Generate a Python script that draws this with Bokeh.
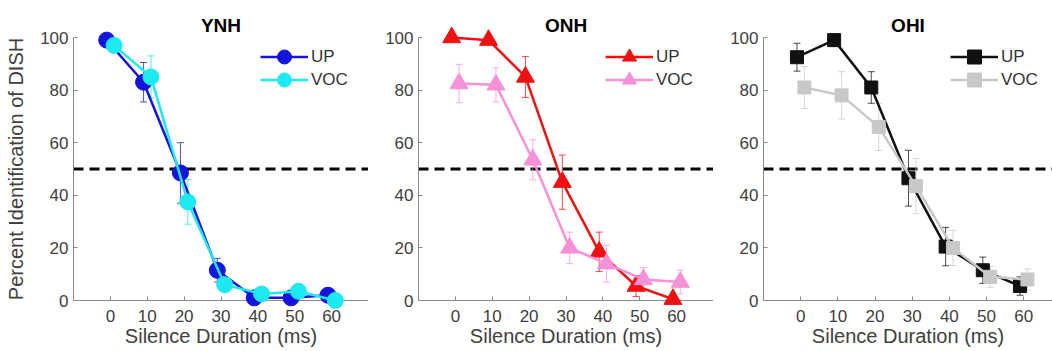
from bokeh.plotting import figure
from bokeh.layouts import row
from bokeh.models import (Range1d, FixedTicker, Span, Whisker, TeeHead,
                          ColumnDataSource, Legend, LegendItem)
from bokeh.embed import file_html
from bokeh.resources import INLINE

# ---------------- data ----------------
durations = [0, 10, 20, 30, 40, 50, 60]
x_ticks = [0, 10, 20, 30, 40, 50, 60]
y_ticks = [0, 20, 40, 60, 80, 100]
series_labels = ["UP", "VOC"]
panel_titles = ["YNH", "ONH", "OHI"]

ynh_up = [99, 83, 48.5, 11.5, 1, 1, 2]
ynh_up_err = [1, 7.5, 11.5, 4.5, 1, 1, 1]
ynh_voc = [97, 85, 37.5, 6, 2.5, 3.5, 0]
ynh_voc_err = [1.5, 8, 8.5, 2.5, 1.5, 1.5, 0.5]

onh_up = [100, 99, 85, 45, 18.5, 5.5, 0.5]
onh_up_err = [0.5, 1, 7.8, 10.3, 7.5, 4, 0.5]
onh_voc = [82.5, 82, 53.5, 20, 14, 8, 7]
onh_voc_err = [7.3, 6.5, 7.6, 6, 7, 4.5, 4.5]

ohi_up = [92.5, 99, 81, 46.5, 20.5, 11.5, 5.5]
ohi_up_err = [5.3, 1, 6, 10.6, 7.3, 5, 3.5]
ohi_voc = [81, 78, 66, 43.5, 20, 9, 8]
ohi_voc_err = [8, 9, 9, 10.5, 6.7, 4, 4]

JITTER = 1.0
FONT = "Liberation Sans"
TEXT = "#404040"
AXIS = "#8a8a8a"


def make_panel(title, up, up_err, voc, voc_err, marker, colors, size,
               x_end, border_left, width, ylabel=None):
    p = figure(width=width, height=351,
               x_range=Range1d(-10, x_end), y_range=Range1d(0, 100),
               output_backend="svg", toolbar_location=None,
               min_border_left=border_left, min_border_right=0,
               min_border_top=37, min_border_bottom=51)
    p.outline_line_color = None
    p.grid.visible = False
    p.title.text = title
    p.title.align = "center"
    p.title.text_font = FONT
    p.title.text_font_size = "19px"
    p.title.text_font_style = "bold"
    p.title.text_color = "black"
    p.title.standoff = 3

    for ax in (p.xaxis[0], p.yaxis[0]):
        ax.axis_line_color = AXIS
        ax.axis_line_width = 1
        ax.major_tick_line_color = AXIS
        ax.major_tick_in = 4
        ax.major_tick_out = 0
        ax.minor_tick_line_color = None
        ax.major_label_text_font = FONT
        ax.major_label_text_font_size = "17px"
        ax.major_label_text_color = TEXT
        ax.axis_label_text_font = FONT
        ax.axis_label_text_font_size = "20px"
        ax.axis_label_text_font_style = "normal"
        ax.axis_label_text_color = TEXT
    p.xaxis.ticker = FixedTicker(ticks=x_ticks)
    p.yaxis.ticker = FixedTicker(ticks=y_ticks)
    p.xaxis.major_label_standoff = 9
    p.yaxis.major_label_standoff = 5
    p.xaxis.axis_label = "Silence Duration (ms)"
    p.xaxis.axis_label_standoff = 0
    if ylabel:
        p.yaxis.axis_label = ylabel
        p.yaxis.axis_label_standoff = 10

    p.add_layout(Span(location=50, dimension="width", line_color="black",
                      line_width=3, line_dash="10 6", level="underlay"))

    legend_rows = []
    for sign, vals, errs, color, lab in ((-1, up, up_err, colors[0], series_labels[0]),
                                         (1, voc, voc_err, colors[1], series_labels[1])):
        src = ColumnDataSource(dict(
            x=[d + sign * JITTER for d in durations], y=vals,
            lo=[v - e for v, e in zip(vals, errs)],
            hi=[v + e for v, e in zip(vals, errs)]))
        w = Whisker(base="x", lower="lo", upper="hi", source=src,
                    line_color=color, line_width=1, line_alpha=0.75,
                    level="glyph",
                    upper_head=TeeHead(size=7, line_color=color, line_alpha=0.75),
                    lower_head=TeeHead(size=7, line_color=color, line_alpha=0.75))
        p.add_layout(w)
        ln = p.line("x", "y", source=src, line_color=color, line_width=2.5,
                    level="annotation")
        sc = p.scatter("x", "y", source=src, marker=marker, size=size,
                       fill_color=color, line_color=color, level="annotation")
        legend_rows.append(LegendItem(label=lab, renderers=[ln, sc]))

    # one legend per row so the legend markers can be drawn at full size
    for item, ypos in zip(legend_rows, (226, 203)):
        leg = Legend(items=[item], location=(187, ypos), padding=0, margin=0,
                     spacing=0, glyph_width=48, glyph_height=35, label_height=35,
                     label_standoff=3, border_line_color=None,
                     background_fill_alpha=0, label_text_font=FONT,
                     label_text_font_size="17px", label_text_color="#333333")
        p.add_layout(leg)
    return p


p1 = make_panel(panel_titles[0], ynh_up, ynh_up_err, ynh_voc, ynh_voc_err,
                "circle", ("#1414dc", "#1ee8f0"), 16, 70, 73, 368,
                ylabel="Percent Identification of DISH")
p2 = make_panel(panel_titles[1], onh_up, onh_up_err, onh_voc, onh_voc_err,
                "triangle", ("#ee1111", "#f690d8"), 18, 70, 50, 345)
p3 = make_panel(panel_titles[2], ohi_up, ohi_up_err, ohi_voc, ohi_voc_err,
                "square", ("#111111", "#c8c8c8"), 13, 67.75, 50, 339)

layout = row(p1, p2, p3, spacing=0)
open("out.html", "w").write(file_html(layout, INLINE))
